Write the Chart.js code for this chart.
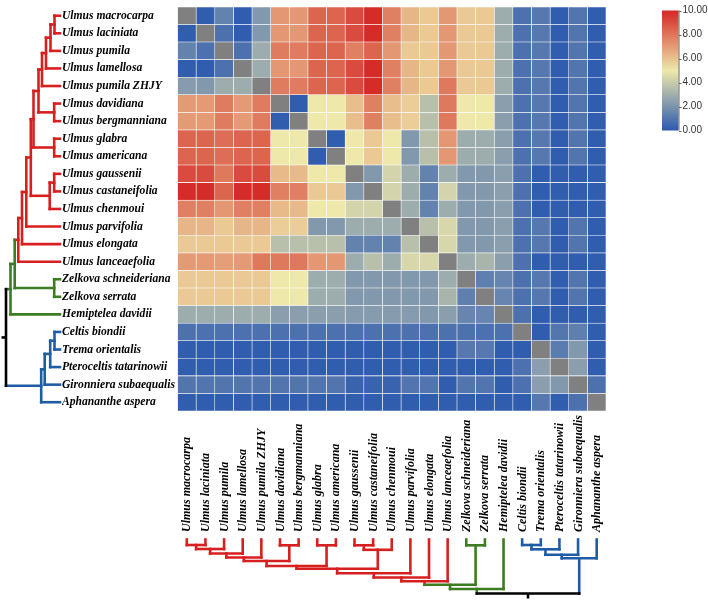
<!DOCTYPE html>
<html><head><meta charset="utf-8">
<script src="https://cdn.jsdelivr.net/npm/chart.js@4.4.1/dist/chart.umd.min.js"></script>
<style>html,body{margin:0;padding:0;background:#fff}#wrap{position:relative;width:708px;height:602px}</style>
</head><body><div id="wrap"><canvas id="c" width="708" height="602"></canvas></div>
<script>
const species = ["Ulmus macrocarpa","Ulmus laciniata","Ulmus pumila","Ulmus lamellosa","Ulmus pumila ZHJY","Ulmus davidiana","Ulmus bergmanniana","Ulmus glabra","Ulmus americana","Ulmus gaussenii","Ulmus castaneifolia","Ulmus chenmoui","Ulmus parvifolia","Ulmus elongata","Ulmus lanceaefolia","Zelkova schneideriana","Zelkova serrata","Hemiptelea davidii","Celtis biondii","Trema orientalis","Pteroceltis tatarinowii","Gironniera subaequalis","Aphananthe aspera"];

const heat = [
[null,0.1,1.4,0.1,2.2,7.1,7.1,8.4,8.4,9.1,9.9,7.7,6.3,5.8,7.1,5.8,5.8,2.9,0.8,1.05,0.1,0.95,0.1],
[0.1,null,0.8,0.1,2.2,7.1,7.1,8.4,8.4,9.1,9.9,7.7,6.3,5.8,7.1,5.8,5.8,2.9,0.8,1.05,0.1,0.95,0.1],
[1.4,0.8,null,0.8,2.9,7.8,7.8,8.4,8.4,7.7,8.4,7.1,5.8,5.8,7.1,5.8,5.8,2.9,0.8,1.05,0.1,0.95,0.1],
[0.1,0.1,0.8,null,2.9,7.1,7.1,8.4,8.4,9.1,9.9,7.7,6.3,5.8,7.1,5.8,5.8,2.9,0.8,1.05,0.1,0.95,0.1],
[2.3,2.2,2.9,2.9,null,7.8,7.8,8.4,8.4,9.1,9.9,7.7,6.3,5.8,7.9,5.8,5.8,2.9,0.8,1.05,0.1,0.95,0.1],
[7.0,7.0,7.8,7.0,7.8,null,0.1,5.0,5.0,6.1,7.7,6.1,5.7,3.6,7.9,5.0,5.0,2.4,0.8,1.05,0.1,0.95,0.1],
[7.0,7.0,7.8,7.0,7.8,0.1,null,5.0,5.0,6.1,7.7,6.1,5.7,3.6,7.9,5.0,5.0,2.4,0.8,1.05,0.1,0.95,0.1],
[8.4,8.4,8.2,8.4,8.4,5.0,5.0,null,0.1,5.0,5.8,5.0,2.2,3.6,7.1,2.9,2.9,2.4,0.8,1.05,0.1,0.95,0.1],
[8.4,8.4,8.2,8.4,8.4,5.0,5.0,0.1,null,5.0,5.8,5.0,2.2,3.6,7.1,2.9,2.9,2.4,0.8,1.05,0.1,0.95,0.1],
[9.1,9.1,7.9,9.1,9.1,6.2,6.2,5.0,5.0,null,2.2,4.3,2.9,1.4,2.9,2.2,2.2,2.4,0.8,0.1,0.1,0.1,0.1],
[9.9,9.9,8.4,9.9,9.9,7.7,7.7,5.8,5.8,2.2,null,4.3,2.9,1.4,4.3,2.2,2.2,2.4,0.8,0.1,0.1,0.1,0.1],
[7.7,7.7,7.1,7.7,7.7,6.2,6.2,5.0,5.0,4.3,4.3,null,2.9,1.4,2.9,2.2,2.2,2.4,0.8,0.1,0.1,0.1,0.1],
[6.3,6.3,5.8,6.3,6.3,5.7,5.7,2.2,2.2,2.9,2.9,2.9,null,3.6,4.4,2.2,2.2,2.4,0.8,1.05,0.1,0.95,0.1],
[5.8,5.8,5.8,5.8,5.8,3.6,3.6,3.6,3.6,1.4,1.4,1.4,3.6,null,4.4,2.2,2.2,2.4,0.8,1.05,0.1,0.95,0.1],
[7.0,7.0,6.9,7.0,7.9,7.9,7.9,7.1,7.1,2.9,3.6,2.9,4.4,4.4,null,2.9,3.2,2.4,0.8,0.1,0.1,0.1,0.1],
[5.8,5.8,5.8,5.8,5.8,5.0,5.0,2.9,2.9,2.2,2.2,2.2,2.2,2.2,2.9,null,1.3,1.5,0.8,1.05,0.1,0.95,0.1],
[5.8,5.8,5.8,5.8,5.8,5.0,5.0,2.9,2.9,2.2,2.2,2.2,2.2,2.2,3.2,1.3,null,1.5,0.8,1.05,0.1,0.95,0.1],
[2.9,2.9,2.9,2.9,2.9,2.4,2.4,2.4,2.4,2.3,2.3,2.3,2.3,2.2,2.4,1.5,1.5,null,0.8,0.1,0.1,0.1,0.1],
[0.8,0.8,0.8,0.8,0.8,0.8,0.8,0.8,0.8,0.8,0.8,0.8,0.8,0.8,0.8,0.8,0.8,0.8,null,0.1,1.0,1.3,0.1],
[0.1,0.1,0.1,0.1,0.1,0.1,0.1,0.1,0.1,0.1,0.1,0.1,0.1,0.1,0.1,1.05,1.05,0.1,0.1,null,1.2,2.2,0.1],
[0.1,0.1,0.1,0.1,0.1,0.1,0.1,0.1,0.1,0.1,0.1,0.1,0.1,0.1,0.1,0.1,0.1,0.1,0.8,2.4,null,2.4,0.1],
[0.95,0.95,0.95,0.95,0.95,0.95,0.95,0.95,0.95,0.3,0.3,0.3,0.95,0.95,0.1,0.95,0.95,0.1,0.8,2.4,2.2,null,0.8],
[0.1,0.1,0.1,0.1,0.1,0.1,0.1,0.1,0.1,0.1,0.1,0.1,0.1,0.1,0.1,0.1,0.1,0.1,0.1,1.05,0.1,0.8,null]
];

// dendrogram: leaf index >= 0, merged node k referenced as -(k+1)
const mergePairs = [[0,1],[-1,2],[-2,3],[-3,4],[5,6],[-4,-5],[7,8],[-6,-7],[9,10],[-9,11],[-8,-10],[-11,12],[-12,13],[-13,14],[15,16],[-14,-15],[-16,17],[18,19],[-18,20],[-19,21],[-20,22],[-17,-21]];
const mergeHeights = [5.5,9.5,14,18,5.8,21.5,5.8,26.5,5.8,10.3,29.2,33.7,38,41.7,5.8,45.3,49.5,5.5,9.8,15.3,18.8,54];
const mergeGroups = ["r","r","r","r","r","r","r","r","r","r","r","r","r","r","g","g","g","b","b","b","b","k"];
const groupColors = {r:"#d71f1f", g:"#3c7d22", b:"#1f5ca6", k:"#000000"};

const colorStops = [0, 5, 10];
const stopColors = [[45,90,175],[238,232,170],[212,40,38]];
const colorbarTicks = [0, 2, 4, 6, 8, 10];
const diagColor = "#808080";

function colorFor(v){
  if (v === null) return diagColor;
  let k = v <= colorStops[1] ? 0 : 1;
  const t = Math.max(0, Math.min(1, (v - colorStops[k])/(colorStops[k+1]-colorStops[k])));
  const a = stopColors[k], b = stopColors[k+1];
  return `rgb(${Math.round(a[0]+(b[0]-a[0])*t)},${Math.round(a[1]+(b[1]-a[1])*t)},${Math.round(a[2]+(b[2]-a[2])*t)})`;
}

const datasets = species.map((name, j) => ({
  label: name,
  data: species.map(() => [j, j + 1]),
  backgroundColor: heat.map(row => colorFor(row[j])),
  borderColor: "rgba(255,255,255,0.9)",
  borderWidth: 0.6,
  borderSkipped: false,
  barPercentage: 1,
  categoryPercentage: 1,
  grouped: false
}));

const labelFont = "italic bold 12px 'Liberation Serif', 'Times New Roman', serif";

const extrasPlugin = {
  id: "extras",
  afterDraw(chart) {
    const ctx = chart.ctx;
    const xs = chart.scales.x, ys = chart.scales.y;
    const rowPos = i => ys.getPixelForValue(i);
    const colPos = j => xs.getPixelForValue(j + 0.5);
    const maxH = mergeHeights[mergeHeights.length - 1];
    const leafX = 60, rootX = 6, leafY = 539.5, rootY = 593.5;

    // bottom labels
    ctx.save();
    ctx.font = labelFont;
    ctx.fillStyle = "#000";
    ctx.textAlign = "left";
    ctx.textBaseline = "middle";
    species.forEach((s, j) => {
      ctx.save();
      ctx.translate(colPos(j) + 0.5, 532);
      ctx.rotate(-Math.PI / 2);
      ctx.fillText(s, 0, 0);
      ctx.restore();
    });
    ctx.restore();

    // dendrograms
    function drawTree(orient) {
      const pos = [];
      const hp = h => orient === "left" ? leafX - h / maxH * (leafX - rootX) : leafY + h / maxH * (rootY - leafY);
      const leafP = i => orient === "left" ? rowPos(i) : colPos(i);
      const seg = (p1, h1, p2, h2, color) => {
        ctx.strokeStyle = color;
        ctx.beginPath();
        if (orient === "left") { ctx.moveTo(hp(h1), p1); ctx.lineTo(hp(h2), p2); }
        else { ctx.moveTo(p1, hp(h1)); ctx.lineTo(p2, hp(h2)); }
        ctx.stroke();
      };
      ctx.save();
      ctx.lineWidth = 2.6;
      ctx.lineCap = "square";
      mergePairs.forEach((pair, k) => {
        const h = mergeHeights[k];
        const col = groupColors[mergeGroups[k]];
        const kids = pair.map(c => c >= 0
          ? {p: leafP(c), h: 0, color: col}
          : {p: pos[-c - 1], h: mergeHeights[-c - 1], color: groupColors[mergeGroups[-c - 1]]});
        kids.forEach(kd => seg(kd.p, h, kd.p, kd.h, kd.color));
        seg(kids[0].p, h, kids[1].p, h, col);
        pos[k] = (kids[0].p + kids[1].p) / 2;
      });
      const root = pos[pos.length - 1];
      ctx.strokeStyle = groupColors.k;
      ctx.lineCap = "butt";
      ctx.beginPath();
      if (orient === "left") { ctx.moveTo(hp(maxH), root); ctx.lineTo(hp(maxH) - 4.5, root); }
      else { ctx.moveTo(root, hp(maxH)); ctx.lineTo(root, hp(maxH) + 5); }
      ctx.stroke();
      ctx.restore();
    }
    drawTree("left");
    drawTree("bottom");

    // colour bar
    const cbL = 662, cbR = 678.5, cbT = 10.5, cbB = 130.5;
    const vmin = colorbarTicks[0], vmax = colorbarTicks[colorbarTicks.length - 1];
    const vy = v => cbB - (v - vmin) / (vmax - vmin) * (cbB - cbT);
    ctx.save();
    const g = ctx.createLinearGradient(0, cbB, 0, cbT);
    for (let s = 0; s <= 20; s++) { const v = vmin + (vmax - vmin) * s / 20; g.addColorStop(s / 20, colorFor(v)); }
    ctx.fillStyle = g;
    ctx.fillRect(cbL, cbT, cbR - cbL, cbB - cbT);
    ctx.strokeStyle = "#666";
    ctx.lineWidth = 1;
    ctx.beginPath();
    ctx.moveTo(cbR + 0.5, cbT); ctx.lineTo(cbR + 0.5, cbB);
    colorbarTicks.forEach(t => { const y = Math.round(vy(t)) + 0.5; ctx.moveTo(cbR + 0.5, y); ctx.lineTo(cbR + 3, y); });
    ctx.stroke();
    ctx.fillStyle = "#333";
    ctx.font = "10px 'Liberation Sans', Arial, sans-serif";
    ctx.textAlign = "left";
    ctx.textBaseline = "middle";
    colorbarTicks.forEach(t => ctx.fillText(t.toFixed(2), cbR + 4, vy(t)));
    ctx.restore();
  }
};

new Chart(document.getElementById("c"), {
  type: "bar",
  data: { labels: species, datasets },
  options: {
    indexAxis: "y",
    responsive: false,
    animation: false,
    devicePixelRatio: 1,
    layout: { padding: { left: 62, top: 1.5, right: 102, bottom: 191 } },
    plugins: { legend: { display: false }, tooltip: { enabled: false } },
    scales: {
      x: { type: "linear", min: 0, max: 23, display: false },
      y: {
        type: "category",
        grid: { display: false, drawTicks: false },
        border: { display: false },
        ticks: { crossAlign: "far", padding: 0, color: "#000", font: { family: "'Liberation Serif', 'Times New Roman', serif", style: "italic", weight: "bold", size: 11.6 } },
        afterFit: s => { s.width = 115.5; }
      }
    }
  },
  plugins: [extrasPlugin]
});
</script></body></html>
